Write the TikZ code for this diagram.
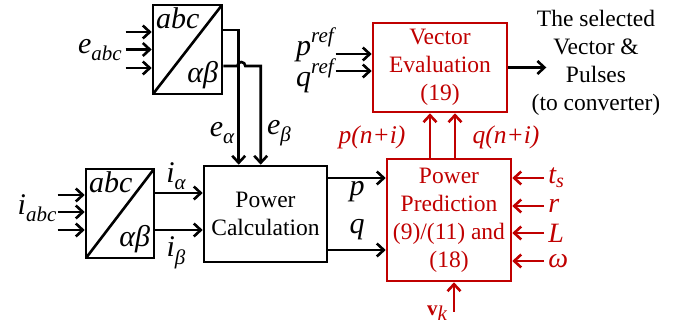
\documentclass[tikz,border=0pt]{standalone}
\usepackage{fontspec}
\setmainfont{Liberation Serif}
\usetikzlibrary{arrows.meta,positioning}
\definecolor{pcred}{RGB}{192,0,0}
\newcommand{\lo}[1]{\raisebox{-0.25em}{\fontsize{21}{21}\selectfont\itshape #1}}
\newcommand{\hi}[1]{\raisebox{0.45em}{\fontsize{21}{21}\selectfont\itshape #1}}

\begin{document}
\begin{tikzpicture}[x=1pt,y=-1pt,line width=2.6pt,
    arr/.style={-{Straight Barb[length=7pt,width=13pt]}},
    redarr/.style={arr,draw=pcred},
    blk/.style={draw,inner sep=0pt,align=center,font=\fontsize{23.5}{28}\selectfont},
    redblk/.style={blk,draw=pcred,text=pcred},
    conv/.style={draw,inner sep=0pt,minimum width=69pt,minimum height=89pt,
      path picture={\draw (path picture bounding box.south west) -- (path picture bounding box.north east);}},
    var/.style={inner sep=1pt,font=\fontsize{30}{30}\selectfont\itshape},
    par/.style={var,text=pcred,anchor=west,inner sep=0pt,font=\fontsize{28}{28}\selectfont\itshape},
    pn/.style={inner sep=1pt,text=pcred,font=\fontsize{25.5}{25.5}\selectfont\itshape}]
  \useasboundingbox (0,0) rectangle (675,328);
  % abc -> alpha beta converters
  \node[conv] (abcE) at (187.5,49.5) {};
  \node[var,anchor=north west,inner sep=0pt] (abcEtop) at ([shift={(3,3)}]abcE.north west) {abc};
  \node[var,anchor=south east,inner sep=0pt] (abcEbot) at ([shift={(-4,-5)}]abcE.south east) {αβ};
  \node[conv,minimum width=68pt] (abcI) at (120,213.5) {};
  \node[var,anchor=north west,inner sep=0pt] (abcItop) at ([shift={(3,3)}]abcI.north west) {abc};
  \node[var,anchor=south east,inner sep=0pt] (abcIbot) at ([shift={(-4,-5)}]abcI.south east) {αβ};
  % blocks
  \node[blk,minimum width=123pt,minimum height=96pt] (calc) at (265.5,214) {Power\\Calculation};
  \node[redblk,minimum width=124pt,minimum height=122pt] (pred) at (449,220) {Power\\Prediction\\(9)/(11) and\\(18)};
  \node[redblk,minimum width=134pt,minimum height=89pt] (eval) at (440,67.5) {Vector\\Evaluation\\(19)};
  \node[blk,draw=none] (out) at (596,62.5) {The selected\\Vector \&\\Pulses\\(to converter)};
  % signal labels
  \node[var] (eabc) at (100,50) {e\lo{abc}};
  \node[var] (ealpha) at (222,133) {e\lo{α}};
  \node[var] (ebeta) at (279,133) {e\lo{β}};
  \node[var] (iabc) at (37,208) {i\lo{abc}};
  \node[var] (ialpha) at (176,176) {i\lo{α}};
  \node[var] (ibeta) at (176,253) {i\lo{β}};
  \node[var] (plab) at (357,192) {p};
  \node[var] (qlab) at (357,230) {q};
  \node[var,anchor=east] (pref) at (336,45) {p\hi{ref}};
  \node[var,anchor=east] (qref) at (336,76) {q\hi{ref}};
  \node[pn] (pni) at (372,137) {p(n+i)};
  \node[pn] (qni) at (506,137) {q(n+i)};
  \node[par] (ts) at (547,178) {t\raisebox{-0.15em}{\fontsize{20}{20}\selectfont s}};
  \node[par] (rr) at (547,206) {r};
  \node[par] (LL) at (547,233) {L};
  \node[par] (om) at (547,261) {ω};
  \node[text=pcred,inner sep=1pt,font=\fontsize{21}{21}\selectfont] (vk) at (437,313) {\textbf{v}\lo{k}};
  \coordinate (vkin) at (454,312);

  % inputs of the converters
  \foreach \s in {17.5,0,-18.5}
    \draw[arr] ([shift={(-26,0)},yshift=\s pt]abcE.west) -- ([yshift=\s pt]abcE.west);
  \foreach \s in {18.5,1.5,-16.5}
    \draw[arr] ([shift={(-27,0)},yshift=\s pt]abcI.west) -- ([yshift=\s pt]abcI.west);
  % e alpha, e beta
  \draw[arr] ([yshift=19.5pt]abcE.east) -| ([xshift=36pt]calc.north west);
  \draw[arr] ([yshift=-16.5pt]abcE.east) -- ++(14,0) arc[start angle=180,end angle=0,radius=4pt]
    -| ([xshift=58pt]calc.north west);
  % i alpha, i beta
  \draw[arr] ([yshift=20.5pt]abcI.east) -- ([yshift=20.5pt]abcI.east -| calc.west);
  \draw[arr] ([yshift=-16.5pt]abcI.east) -- ([yshift=-16.5pt]abcI.east -| calc.west);
  % p, q
  \draw[arr] ([yshift=36pt]calc.east) -- ([yshift=36pt]calc.east -| pred.west);
  \draw[arr] ([yshift=-36pt]calc.east) -- ([yshift=-36pt]calc.east -| pred.west);
  % references
  \draw[arr] ([shift={(-36,0)},yshift=13.5pt]eval.west) -- ([yshift=13.5pt]eval.west);
  \draw[arr] ([shift={(-36,0)},yshift=-3.5pt]eval.west) -- ([yshift=-3.5pt]eval.west);
  \draw[arr] (eval.east) -- ++(38,0);
  % predicted powers
  \draw[redarr] ([xshift=-19pt]pred.north) -- ([xshift=-19pt]pred.north |- eval.south);
  \draw[redarr] ([xshift=6pt]pred.north) -- ([xshift=6pt]pred.north |- eval.south);
  % parameters
  \foreach \n in {ts,rr,LL,om}
    \draw[redarr] ([xshift=-3pt]\n.west) -- (\n.west -| pred.east);
  \draw[redarr] (vkin) -- (vkin |- pred.south);
\end{tikzpicture}
\end{document}
